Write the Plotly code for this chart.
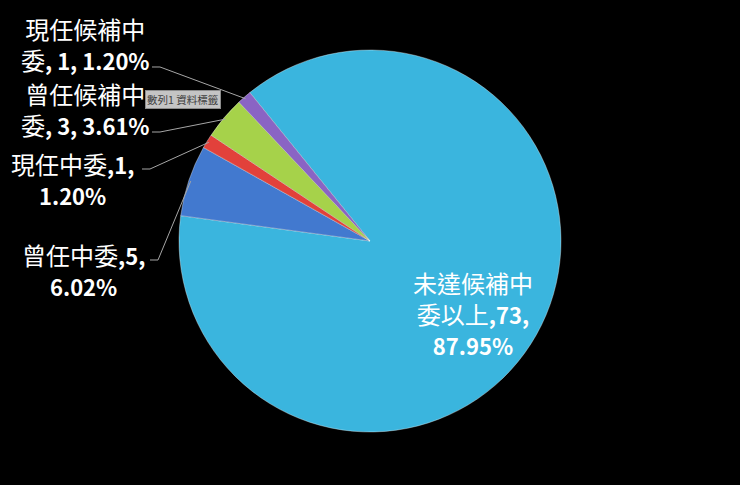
import math
import plotly.graph_objects as go

# data
names = ["未達候補中委以上", "曾任中委", "現任中委", "曾任候補中委", "現任候補中委"]
counts = [73, 5, 1, 3, 1]
pct_labels = ["87.95%", "6.02%", "1.20%", "3.61%", "1.20%"]
colors = ["#3ab5de", "#4279cf", "#e2413b", "#a6d24a", "#8a64c4"]

W, H = 740, 485
cx, cy, r = 370, 241, 191   # pie centre / radius in pixels
rotation = -39              # start of first slice, clockwise from 12 o'clock

NUM = "<span style='font-size:22px'><b>%s</b></span>"


def label_text(name, n, pct):
    head = name if len(name) <= 5 else name[:5] + "<br>" + name[5:]
    tail = name[5:] if len(name) > 5 else name
    if len(tail) <= 1:
        return head + NUM % (", %d, %s" % (n, pct))
    return head + NUM % (",%d," % n) + "<br>" + NUM % pct


def px(x, y):
    return x / W, 1 - y / H


fig = go.Figure()
fig.add_trace(go.Pie(
    labels=names,
    values=counts,
    sort=False,
    direction="clockwise",
    rotation=rotation,
    textinfo="none",
    hoverinfo="label+value+percent",
    marker=dict(colors=colors, line=dict(color="rgba(255,255,255,0.35)", width=1)),
    domain=dict(x=[(cx - r) / W, (cx + r) / W], y=[1 - (cy + r) / H, 1 - (cy - r) / H]),
    showlegend=False,
))

# label block centres (px) and leader elbows (px)
label_pos = [(473, 313), (83, 269), (72, 178), (85, 109), (85, 44)]
elbows = [None, ((150, 260), (158, 260)), ((142, 169), (150, 169)),
          ((152, 132), (160, 132)), ((152, 67), (160, 67))]

total = sum(counts)
start = rotation
annotations = []
shapes = []
for i, (nm, n, p) in enumerate(zip(names, counts, pct_labels)):
    span = 360.0 * n / total
    mid = math.radians(start + span / 2)
    start += span
    lx, ly = px(*label_pos[i])
    annotations.append(dict(
        x=lx, y=ly, xref="paper", yref="paper", xanchor="center", yanchor="middle",
        text=label_text(nm, n, p), showarrow=False, align="center",
        font=dict(family="Noto Sans CJK TC", size=24, color="white"),
    ))
    if elbows[i]:
        ax = cx + (r - 2) * math.sin(mid)
        ay = cy - (r - 2) * math.cos(mid)
        (x0, y0), (x1, y1) = elbows[i]
        pts = [px(x0, y0), px(x1, y1), px(ax, ay)]
        path = "M %f,%f L %f,%f L %f,%f" % (pts[0][0], pts[0][1], pts[1][0], pts[1][1], pts[2][0], pts[2][1])
        shapes.append(dict(type="path", xref="paper", yref="paper", path=path,
                           line=dict(color="#a6a6a6", width=1)))

# the little grey tooltip left over in the screenshot
tx, ty = px(183, 100)
annotations.append(dict(
    x=tx, y=ty, xref="paper", yref="paper", xanchor="center", yanchor="middle",
    text="數列1 資料標籤", showarrow=False, bgcolor="#c4c4c4", bordercolor="#8c8c8c",
    borderwidth=1, borderpad=1, font=dict(family="Noto Sans CJK TC", size=10.5, color="#404040"),
))

fig.update_layout(
    width=W, height=H,
    paper_bgcolor="black", plot_bgcolor="black",
    margin=dict(l=0, r=0, t=0, b=0),
    annotations=annotations,
    shapes=shapes,
)

fig.write_html("out.html", config={"displayModeBar": False},
               post_script="document.body.style.margin='0';document.body.style.background='black';"
                           "document.body.style.overflow='hidden';")
